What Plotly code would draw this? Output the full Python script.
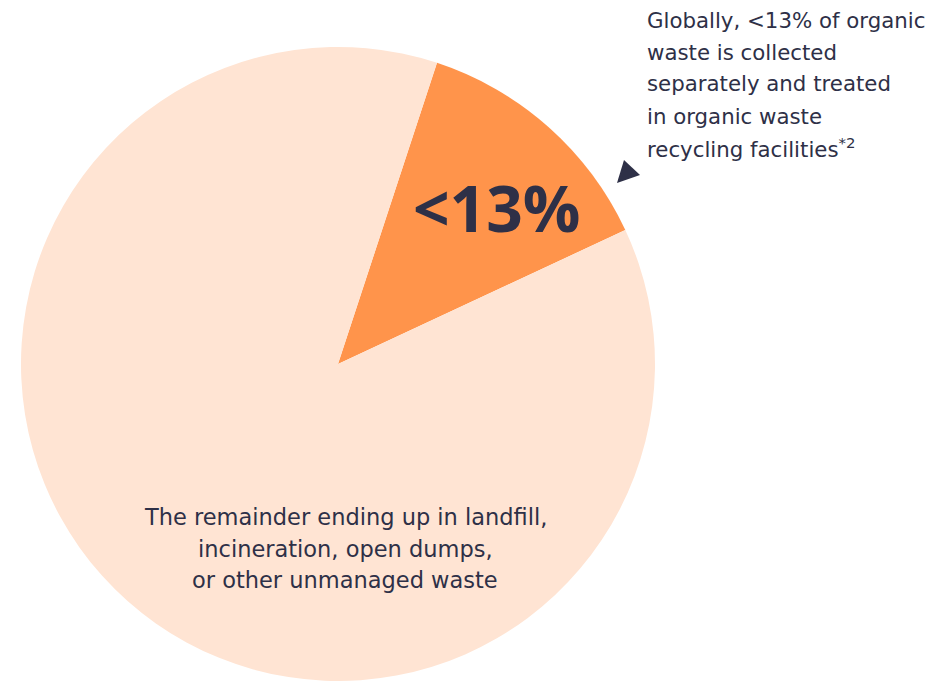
import plotly.graph_objects as go

# Data
labels = ["Collected separately and treated in organic waste recycling facilities",
          "Landfill, incineration, open dumps, other unmanaged waste"]
values = [13, 87]
slice_colors = ["#FF944B", "#FFE4D3"]
big_label = "<13%"
callout_lines = ["Globally, <13% of organic", "waste is collected",
                 "separately and treated", "in organic waste",
                 "recycling facilities<sup>*2</sup>"]
remainder_lines = ["The remainder ending up in landfill,",
                   "incineration, open dumps,",
                   "or other unmanaged waste"]

W, H = 946, 681
TEXT = "#2E3047"
FONT = "DejaVu Sans"
BIG_FONT = "Open Sans"

fig = go.Figure(go.Pie(
    labels=labels, values=values, sort=False, direction="clockwise",
    rotation=18.2, marker=dict(colors=slice_colors, line=dict(width=0)),
    textinfo="none", hoverinfo="label+percent", showlegend=False,
    domain=dict(x=[21 / W, 655 / W], y=[0, 634 / H]),
))

def px(x, y):
    return x / W, 1 - y / H

ann = []
bx, by = px(497, 208)
ann.append(dict(x=bx, y=by, text=f"<b>{big_label.replace('<', '&lt;')}</b>", showarrow=False,
                xref="paper", yref="paper", xanchor="center", yanchor="middle",
                font=dict(family=BIG_FONT, size=64, color=TEXT)))
for i, line in enumerate(callout_lines):
    x, y = px(645, 20 + 32 * i)
    ann.append(dict(x=x, y=y, text=line.replace("<13", "&lt;13"), showarrow=False,
                    xref="paper", yref="paper", xanchor="left", yanchor="middle",
                    font=dict(family=FONT, size=21.3, color=TEXT)))
for i, line in enumerate(remainder_lines):
    x, y = px(345, 517 + 31.5 * i)
    ann.append(dict(x=x, y=y, text=line, showarrow=False,
                    xref="paper", yref="paper", xanchor="center", yanchor="middle",
                    font=dict(family=FONT, size=22.5, color=TEXT)))

tri = [(624, 160), (640, 175), (617, 183)]
path = "M " + " L ".join(f"{px(a, b)[0]},{px(a, b)[1]}" for a, b in tri) + " Z"
fig.update_layout(
    width=W, height=H, margin=dict(l=0, r=0, t=0, b=0),
    paper_bgcolor="white", plot_bgcolor="white",
    annotations=ann,
    shapes=[dict(type="path", path=path, xref="paper", yref="paper",
                 fillcolor=TEXT, line=dict(width=0))],
)
fig.write_html("out.html", config={"displayModeBar": False},
               post_script="document.body.style.margin='0';")
